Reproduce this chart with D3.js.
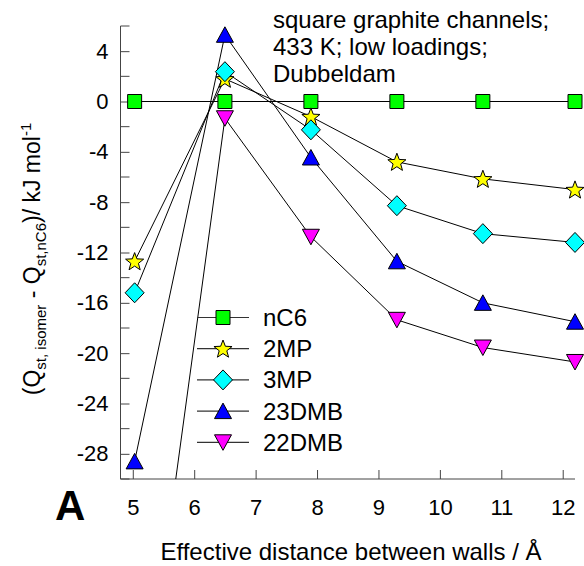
<!DOCTYPE html>
<html>
<head>
<meta charset="utf-8">
<script src="https://cdn.jsdelivr.net/npm/d3@7"></script>
<style>
  html, body { margin: 0; padding: 0; background: #fff; }
  svg { display: block; font-family: "Liberation Sans", Arial, sans-serif; }
</style>
</head>
<body>
<svg id="chart" width="584" height="566"></svg>
<script>
// Effective wall distance (Å) for each simulated channel
const distances = [5.03, 6.5, 7.9, 9.3, 10.7, 12.2];

// Isosteric heat difference relative to nC6, kJ/mol
const seriesNames = ["nC6", "2MP", "3MP", "23DMB", "22DMB"];
const nC6   = [0, 0, 0, 0, 0, 0];
const mp2   = [-12.7, 1.8, -1.2, -4.8, -6.15, -7.0];
const mp3   = [-15.2, 2.37, -2.25, -8.28, -10.5, -11.2];
const dmb23 = [-28.6, 5.3, -4.45, -12.7, -16.0, -17.5];
const dmb22 = [-54, -1.33, -10.75, -17.35, -19.55, -20.7];

const xTicks = [5, 6, 7, 8, 9, 10, 11, 12];
const yTicks = [4, 0, -4, -8, -12, -16, -20, -24, -28];
const yMinorTicks = [6, 2, -2, -6, -10, -14, -18, -22, -26, -30];

const annotation = ["square graphite channels;", "433 K; low loadings;", "Dubbeldam"];

const allValues = [nC6, mp2, mp3, dmb23, dmb22];
const markerShapes = ["square", "star", "diamond", "triangleUp", "triangleDown"];
const markerFills = ["#00ff00", "#ffff00", "#00ffff", "#0000ff", "#ff00ff"];

const svg = d3.select("#chart");
const plotL = 120.5, plotR = 575, plotT = 26, plotB = 479;

const x = d3.scaleLinear().domain([4.8, 12.2]).range([plotL, plotR]);
const y = d3.scaleLinear().domain([-30, 6]).range([plotB, plotT]);

// marker path generators, centred at the origin
function markerPath(shape) {
  switch (shape) {
    case "square": return "M-7,-7H7V7H-7Z";
    case "diamond": return "M0,-10L9.5,0L0,10L-9.5,0Z";
    case "triangleUp": return "M0,-8L8.5,7.5L-8.5,7.5Z";
    case "triangleDown": return "M0,8L8.5,-7.5L-8.5,-7.5Z";
    case "star": {
      const pts = [];
      for (let i = 0; i < 10; i++) {
        const r = i % 2 === 0 ? 9.5 : 4;
        const a = -Math.PI / 2 + i * Math.PI / 5;
        pts.push([r * Math.cos(a), r * Math.sin(a) + 0.8]);
      }
      return "M" + pts.map(p => p[0].toFixed(2) + "," + p[1].toFixed(2)).join("L") + "Z";
    }
  }
}

svg.append("defs").append("clipPath").attr("id", "plotClip")
  .append("rect").attr("x", plotL).attr("y", plotT)
  .attr("width", plotR - plotL).attr("height", plotB - plotT);

// axes: left and bottom, ticks pointing inward
const axisColor = "#444";
const yAxis = d3.axisLeft(y).tickValues(yTicks).tickSize(-9).tickPadding(12)
  .tickFormat(d => d3.format("d")(d).replace("−", "-"));
const gy = svg.append("g").attr("transform", `translate(${plotL},0)`).call(yAxis);
gy.select(".domain").attr("d", `M0,${plotT}V${plotB}`).attr("stroke", axisColor);
gy.selectAll(".tick line").attr("stroke", axisColor);
gy.selectAll(".tick text").attr("font-size", 22).attr("fill", "#000")
  .attr("font-family", "Liberation Sans, Arial, sans-serif");
gy.selectAll(".minor").data(yMinorTicks).enter().append("line")
  .attr("class", "minor").attr("x1", 0).attr("x2", 9)
  .attr("y1", d => y(d)).attr("y2", d => y(d)).attr("stroke", axisColor);

const xAxis = d3.axisBottom(x).tickValues(xTicks).tickSize(-9).tickPadding(20);
const gx = svg.append("g").attr("transform", `translate(0,${plotB})`).call(xAxis);
gx.select(".domain").attr("d", `M${plotL},0H${plotR}`).attr("stroke", axisColor);
gx.selectAll(".tick line").attr("stroke", axisColor);
gx.selectAll(".tick text").attr("font-size", 22).attr("fill", "#000")
  .attr("font-family", "Liberation Sans, Arial, sans-serif");

// connecting lines
const line = d3.line().x((d, i) => x(distances[i])).y(d => y(d));
const linesG = svg.append("g").attr("clip-path", "url(#plotClip)");
allValues.forEach(vals => {
  linesG.append("path").attr("d", line(vals))
    .attr("fill", "none").attr("stroke", "#000").attr("stroke-width", 1);
});

// markers (only those inside the plotted range)
allValues.forEach((vals, s) => {
  svg.append("g").selectAll("path")
    .data(vals.map((v, i) => [distances[i], v]).filter(d => d[1] >= -30 && d[1] <= 6))
    .enter().append("path")
    .attr("d", markerPath(markerShapes[s]))
    .attr("transform", d => `translate(${x(d[0])},${y(d[1])})`)
    .attr("fill", markerFills[s]).attr("stroke", "#000").attr("stroke-width", 1);
});

// legend
const legend = svg.append("g");
seriesNames.forEach((name, i) => {
  const ly = 317.5 + i * 31.2;
  legend.append("line").attr("x1", 197).attr("x2", 249).attr("y1", ly).attr("y2", ly)
    .attr("stroke", "#333").attr("stroke-width", 1.2);
  legend.append("path").attr("d", markerPath(markerShapes[i]))
    .attr("transform", `translate(223,${ly})`)
    .attr("fill", markerFills[i]).attr("stroke", "#000");
  legend.append("text").attr("x", 263).attr("y", ly + 8.5)
    .attr("font-size", 24).text(name);
});

// annotation block
svg.append("g").selectAll("text").data(annotation).enter().append("text")
  .attr("x", 273).attr("y", (d, i) => 28.3 + i * 26.7)
  .attr("font-size", 24).text(d => d);

// axis titles
svg.append("text").attr("x", 351).attr("y", 560).attr("text-anchor", "middle")
  .attr("font-size", 24).text("Effective distance between walls / Å");

const yt = svg.append("text").attr("text-anchor", "middle")
  .attr("transform", "translate(40,259) rotate(-90)").attr("font-size", 23);
yt.append("tspan").text("(Q");
yt.append("tspan").attr("font-size", 15).attr("dy", 6).text("st, isomer");
yt.append("tspan").attr("dy", -6).text(" - Q");
yt.append("tspan").attr("font-size", 15).attr("dy", 6).text("st,nC6");
yt.append("tspan").attr("dy", -6).text(")/ kJ mol");
yt.append("tspan").attr("font-size", 15).attr("dy", -9).text("-1");

// panel letter
svg.append("text").attr("x", 55).attr("y", 520).attr("font-size", 42)
  .attr("font-weight", "bold").text("A");
</script>
</body>
</html>
